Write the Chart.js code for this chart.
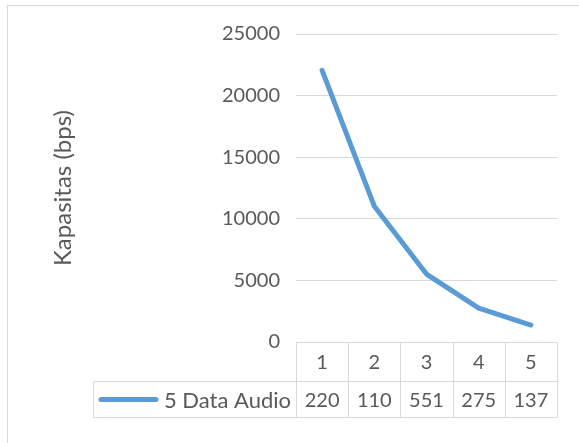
<!DOCTYPE html>
<html>
<head>
<meta charset="utf-8">
<script src="https://cdn.jsdelivr.net/npm/chart.js@4.4.0/dist/chart.umd.min.js"></script>
<style>
  html, body { margin: 0; padding: 0; background: #ffffff; }
  #wrap { position: relative; width: 579px; height: 443px; }
</style>
</head>
<body>
<div id="wrap"><canvas id="KapChart" width="579" height="443"></canvas></div>
<script>
// ---------------- Data ----------------
const categories = ["1", "2", "3", "4", "5"];
const kapasitas = [22050, 11025, 5512, 2756, 1378];
const tableLabels = ["220", "110", "551", "275", "137"];
const seriesName = "5 Data Audio";
const yTicks = [0, 5000, 10000, 15000, 20000, 25000];

const lineColor = "#5B9BD5";
const textColor = "#595959";
const gridColor = "#D9D9D9";
const fontFamily = "Lato, 'Open Sans', sans-serif";

// ---------------- Frame + data table ----------------
const dataTablePlugin = {
    id: "dataTable",
    beforeDraw(chart) {
        const ctx = chart.ctx;
        ctx.save();
        ctx.strokeStyle = gridColor;
        ctx.lineWidth = 1;
        ctx.strokeRect(7.5, 5.5, 600, 500);
        ctx.restore();
    },
    afterDraw(chart) {
        const ctx = chart.ctx;
        const x = chart.scales.x;
        const area = chart.chartArea;
        const step = x.getPixelForValue(1) - x.getPixelForValue(0);
        const top = Math.round(area.bottom) + 0.5;
        const mid = top + 39;
        const bottom = mid + 36;
        const legendLeft = 93.5;

        ctx.save();
        ctx.strokeStyle = gridColor;
        ctx.lineWidth = 1;
        ctx.beginPath();
        // horizontal lines
        ctx.moveTo(Math.round(area.left) + 0.5, top);
        ctx.lineTo(area.right, top);
        ctx.moveTo(legendLeft, mid);
        ctx.lineTo(area.right, mid);
        ctx.moveTo(legendLeft, bottom);
        ctx.lineTo(area.right, bottom);
        // vertical lines
        ctx.moveTo(legendLeft, mid);
        ctx.lineTo(legendLeft, bottom);
        categories.forEach((c, i) => {
            const xl = Math.round(x.getPixelForValue(i) - step / 2) + 0.5;
            ctx.moveTo(xl, top);
            ctx.lineTo(xl, bottom);
        });
        const xr = Math.round(x.getPixelForValue(categories.length - 1) + step / 2) + 0.5;
        ctx.moveTo(xr, top);
        ctx.lineTo(xr, bottom);
        ctx.stroke();

        // texts
        ctx.fillStyle = textColor;
        ctx.font = "20px " + fontFamily;
        ctx.textAlign = "center";
        ctx.textBaseline = "middle";
        categories.forEach((c, i) => {
            const cx = x.getPixelForValue(i);
            ctx.fillText(c, cx, (top + mid) / 2 + 1);
            ctx.fillText(tableLabels[i], cx, (mid + bottom) / 2 + 1);
        });

        // legend key
        ctx.strokeStyle = lineColor;
        ctx.lineWidth = 5;
        ctx.lineCap = "round";
        ctx.beginPath();
        ctx.moveTo(101, (mid + bottom) / 2);
        ctx.lineTo(156, (mid + bottom) / 2);
        ctx.stroke();
        ctx.font = "22px " + fontFamily;
        ctx.textAlign = "right";
        ctx.fillText(seriesName, Math.round(area.left) - 5, (mid + bottom) / 2 + 1);
        ctx.restore();
    }
};

// ---------------- Chart ----------------
const ctx = document.getElementById("KapChart").getContext("2d");

new Chart(ctx, {
    type: "line",
    data: {
        labels: categories,
        datasets: [{
            label: seriesName,
            data: kapasitas,
            borderColor: lineColor,
            backgroundColor: lineColor,
            borderWidth: 5,
            borderCapStyle: "round",
            borderJoinStyle: "round",
            pointRadius: 0,
            tension: 0
        }]
    },
    options: {
        responsive: false,
        animation: false,
        layout: {
            padding: { left: 49, right: 22, top: 34, bottom: 101 }
        },
        scales: {
            x: {
                type: "category",
                offset: true,
                ticks: { display: false },
                grid: { display: false },
                border: { display: false },
                afterFit: (s) => { s.height = 0; }
            },
            y: {
                min: 0,
                max: 25000,
                afterBuildTicks: (s) => { s.ticks = yTicks.map(v => ({ value: v })); },
                afterFit: (s) => { s.width = 247; },
                ticks: {
                    color: textColor,
                    padding: 16,
                    font: { family: fontFamily, size: 20 },
                    callback: (v) => String(v)
                },
                grid: {
                    color: gridColor,
                    lineWidth: 1,
                    drawTicks: false
                },
                border: { display: false },
                title: {
                    display: true,
                    text: "Kapasitas (bps)",
                    color: textColor,
                    padding: 0,
                    font: { family: fontFamily, size: 24 }
                }
            }
        },
        plugins: {
            legend: { display: false },
            tooltip: { enabled: false }
        }
    },
    plugins: [dataTablePlugin]
});
</script>
</body>
</html>
